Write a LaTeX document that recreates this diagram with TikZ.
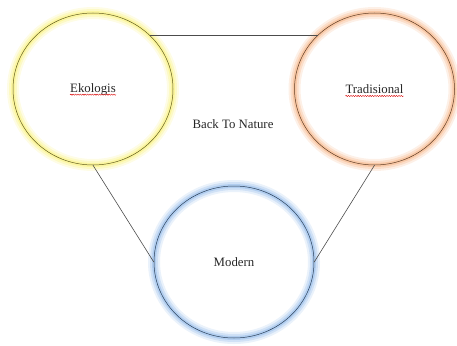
\documentclass[tikz,border=0pt]{standalone}
\usepackage{fontspec}
\setmainfont{Liberation Serif}
\usepackage{tikz}
\usetikzlibrary{shapes.geometric,positioning,decorations.pathmorphing}

\definecolor{glowyellow}{RGB}{247,236,70}
\definecolor{gloworange}{RGB}{242,150,85}
\definecolor{glowblue}{RGB}{105,160,225}

\tikzset{
  bubble/.style={ellipse, minimum width=160pt, minimum height=152pt, inner sep=0pt,
    draw=#1!40!black, line width=.5pt,
    preaction={draw=#1, line width=12pt, draw opacity=.14},
    preaction={draw=#1, line width=8pt, draw opacity=.2},
    preaction={draw=#1, line width=4pt, draw opacity=.3}},
  word/.style={inner sep=0pt, text=black!85},
  link/.style={draw=black!70, line width=.6pt},
  spellmark/.style={draw=red!85!black, line width=.4pt,
    decorate, decoration={snake, amplitude=.6pt, segment length=2.4pt}}
}

\begin{document}
\begin{tikzpicture}[node distance=2cm,on grid,font=\fontsize{12.8}{15}\selectfont]
            \useasboundingbox (0,0) rectangle (457pt,-345pt);
            \node[bubble=glowyellow] (ekologis) at (93pt,-89pt) {};
            \node[bubble=gloworange] (tradisional) [right=281.5pt of ekologis] {};
            \node[bubble=glowblue] (modern) [below right=173pt and 141pt of ekologis] {};
            \node[word] (ekologis-word) at (ekologis) {Ekologis};
            \node[word] (tradisional-word) at (tradisional) {Tradisional};
            \node[word] (modern-word) at (modern) {Modern};
            \node[word] (btn) [below right=35pt and 140pt of ekologis] {Back To Nature};
            % spelling marks under the two words
            \draw[spellmark] ([yshift=-2.6pt]ekologis-word.base west) -- ([yshift=-2.6pt]ekologis-word.base east);
            \draw[spellmark] ([yshift=-2.6pt]tradisional-word.base west) -- ([yshift=-2.6pt]tradisional-word.base east);
            \path[link]
                (ekologis.north east)
                    edge (tradisional.north west)
                (ekologis.south)
                    edge (modern.west)
                (tradisional.south)
                    edge (modern.east);
        \end{tikzpicture}
\end{document}
